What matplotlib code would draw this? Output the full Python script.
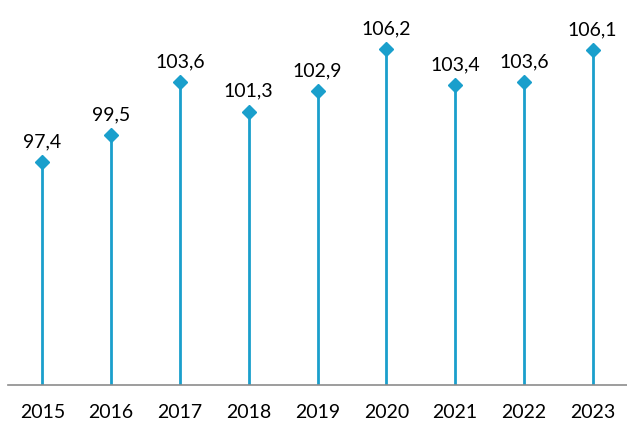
import matplotlib
matplotlib.use("Agg")
import matplotlib.pyplot as plt

years = ["2015", "2016", "2017", "2018", "2019", "2020", "2021", "2022", "2023"]
values = [97.4, 99.5, 103.6, 101.3, 102.9, 106.2, 103.4, 103.6, 106.1]

color = "#1a9fcc"
plt.rcParams['font.family'] = ['Lato', 'DejaVu Sans']

fig = plt.figure(figsize=(6.27, 4.22), dpi=100)
ax = fig.add_axes([8/627, 1 - 385/422, 1 - 8/627, 385/422])
x = list(range(len(years)))
base = 80
ax.vlines(x, base, values, color=color, linewidth=2)
ax.plot(x, values, linestyle="none", marker="D", markersize=7.5, color=color)
for xi, v in zip(x, values):
    ax.annotate(f"{v:.1f}".replace(".", ","), (xi, v), xytext=(0, 8.5),
                textcoords="offset points", ha="center", va="bottom", fontsize=14)
ax.set_xlim(-0.5, 8.5)
ax.set_ylim(base, 110)
ax.set_xticks(x)
ax.set_xticklabels(years, fontsize=14)
ax.tick_params(axis="x", length=0, pad=14)
ax.set_yticks([])
for s in ["top", "right", "left"]:
    ax.spines[s].set_visible(False)
ax.spines["bottom"].set_color("#8c8c8c")
ax.spines["bottom"].set_linewidth(1.2)
fig.savefig("out.png", dpi=100)
